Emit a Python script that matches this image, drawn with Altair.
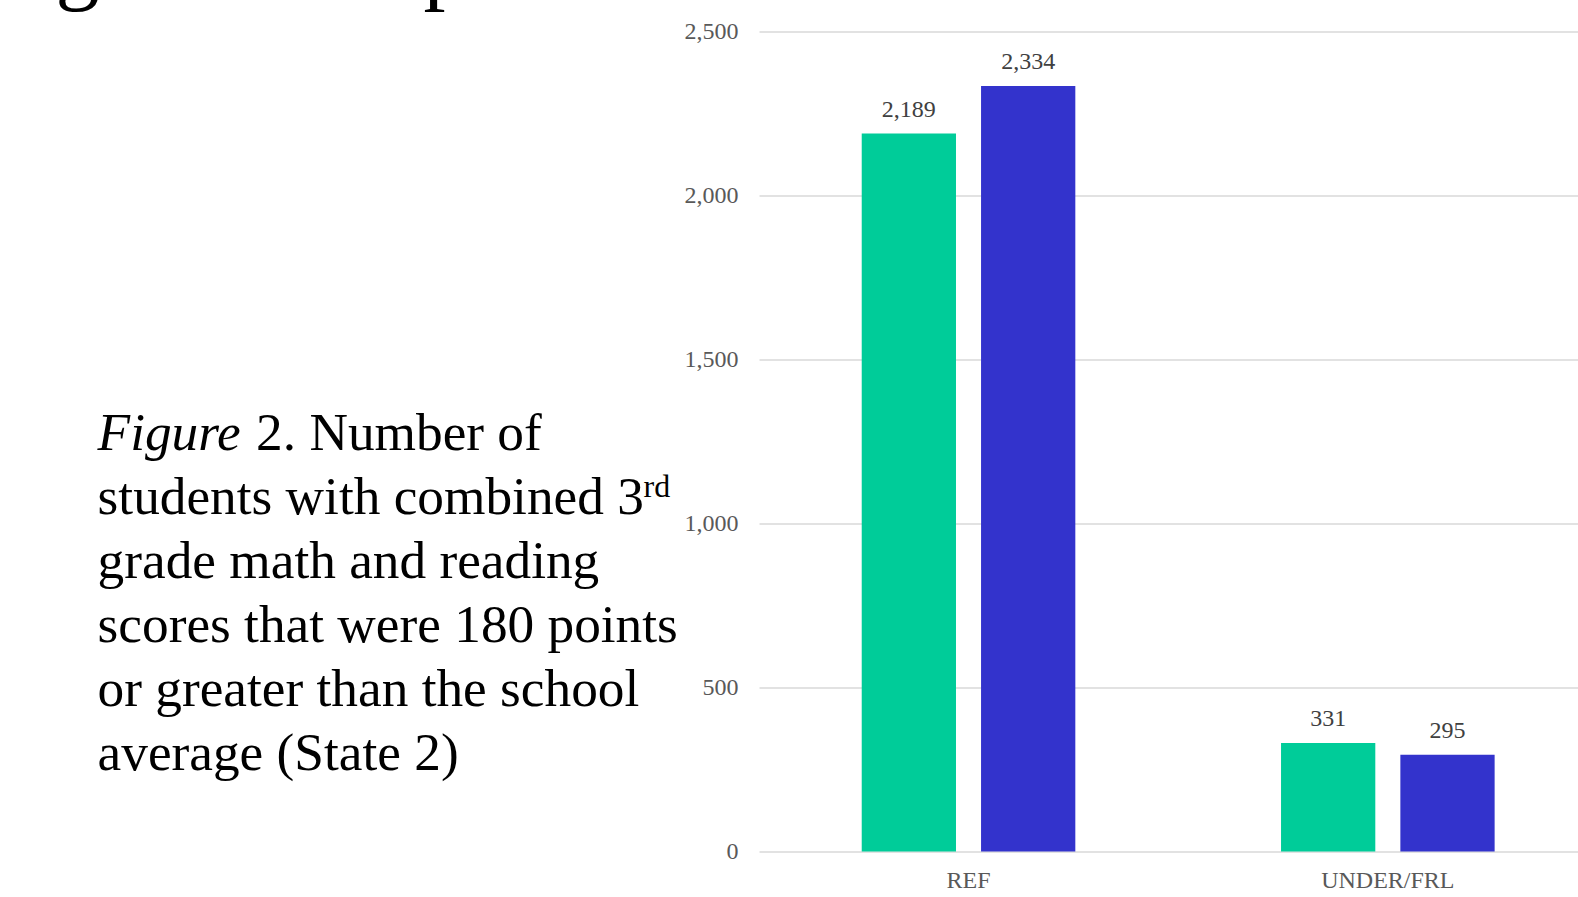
import altair as alt
import pandas as pd

# ---- data ----
groups = ["REF", "UNDER/FRL"]
series_names = ["Series 1", "Series 2"]
series1_values = [2189, 331]
series2_values = [2334, 295]
y_ticks = [0, 500, 1000, 1500, 2000, 2500]
series_colors = ["#00CC99", "#3333CC"]

caption_lines = [
    "students with combined 3",
    "grade math and reading",
    "scores that were 180 points",
    "or greater than the school",
    "average (State 2)",
]
caption_first_italic = "Figure"
caption_first_rest = "2. Number of"
caption_sup = "rd"
title_fragments = ["g", "p"]

rows = []
for g, a, b in zip(groups, series1_values, series2_values):
    rows.append({"group": g, "series": series_names[0], "value": a})
    rows.append({"group": g, "series": series_names[1], "value": b})
df = pd.DataFrame(rows)

SERIF = "Liberation Serif"
W, H = 819, 820
PAD_L, PAD_T = 759, 31.5

x_enc = alt.X(
    "group:N",
    sort=groups,
    scale=alt.Scale(paddingInner=0.4906, paddingOuter=0.2219, align=0.552),
    axis=alt.Axis(
        title=None, labelAngle=0, domain=False, ticks=False, grid=False,
        labelFont=SERIF, labelFontSize=24, labelColor="#595959", labelPadding=17,
    ),
)
xoff_enc = alt.XOffset(
    "series:N", sort=series_names,
    scale=alt.Scale(paddingInner=0.21, paddingOuter=0),
)
y_enc = alt.Y(
    "value:Q",
    scale=alt.Scale(domain=[0, 2500], nice=False),
    axis=alt.Axis(
        title=None, values=y_ticks, format=",.0f", domain=False, ticks=False,
        grid=True, gridColor="#D9D9D9", gridWidth=1.5,
        labelFont=SERIF, labelFontSize=24, labelColor="#595959", labelPadding=21,
    ),
)

base = alt.Chart(df)
bars = base.mark_bar().encode(
    x=x_enc,
    xOffset=xoff_enc,
    y=y_enc,
    color=alt.Color("series:N", scale=alt.Scale(domain=series_names, range=series_colors), legend=None),
)
labels = base.mark_text(
    font=SERIF, fontSize=24, color="#404040", baseline="alphabetic", dy=-17
).encode(
    x=x_enc,
    xOffset=xoff_enc,
    y=y_enc,
    text=alt.Text("value:Q", format=",.0f"),
)

def text_layer(txt, x, y, size, style="normal", align="left"):
    return alt.Chart(pd.DataFrame({"t": [txt]})).mark_text(
        font=SERIF, fontSize=size, fontStyle=style, color="#000000",
        align=align, baseline="alphabetic",
    ).encode(x=alt.value(x), y=alt.value(y), text="t:N")

CAP_SIZE = 53.3
cap_x = 97.6 - PAD_L
baselines = [450, 514, 578, 642, 706, 770]
layers = [bars, labels]
# first caption line: italic "Figure" + regular rest
layers.append(text_layer(caption_first_italic, cap_x, baselines[0] - PAD_T, CAP_SIZE, "italic"))
layers.append(text_layer(caption_first_rest, cap_x + 158.5, baselines[0] - PAD_T, CAP_SIZE))
for line, bl in zip(caption_lines, baselines[1:]):
    layers.append(text_layer(line, cap_x, bl - PAD_T, CAP_SIZE))
# superscript
layers.append(text_layer(caption_sup, cap_x + 546, 497 - PAD_T, 32))
# cut-off slide title descenders (the reference shows only these glyph bottoms)
layers.append(text_layer(title_fragments[0], 55.5 - PAD_L, -7 - PAD_T, 88))
layers.append(text_layer(title_fragments[1], 423.5 - PAD_L, -7 - PAD_T, 88))

chart = alt.layer(*layers).properties(
    width=W, height=H,
    autosize=alt.AutoSizeParams(type="none"),
    padding={"left": PAD_L, "top": PAD_T, "right": 0, "bottom": 897 - H - PAD_T},
    background="#FFFFFF",
).configure_view(stroke=None)

chart.save("out.html", embed_options={"renderer": "svg", "actions": False})
